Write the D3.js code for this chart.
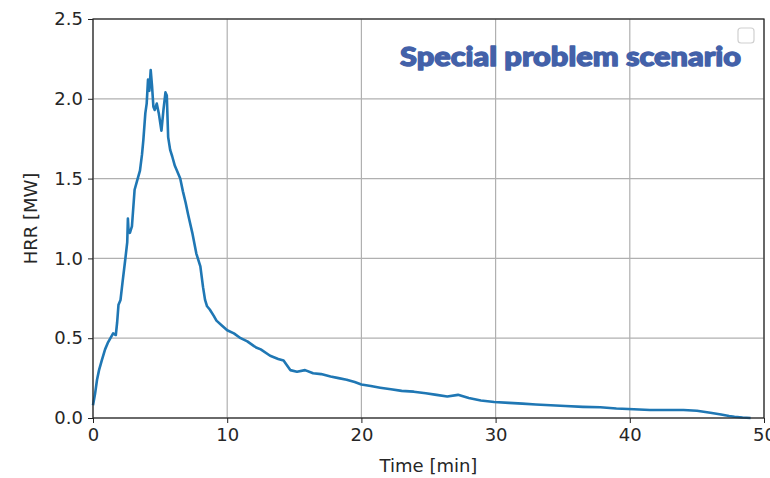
<!DOCTYPE html>
<html>
<head>
<meta charset="utf-8">
<script src="https://cdn.jsdelivr.net/npm/d3@7"></script>
<style>
  body { margin: 0; background: #fff; }
  .axis text { font-family: 'DejaVu Sans', sans-serif; font-size: 18px; fill: #262626; }
  .axis line, .axis path { stroke: #222; }
</style>
</head>
<body>
<svg id="chart"></svg>
<script>
// time [min] and heat release rate [MW]
const timeMin = [0, 0.15, 0.3, 0.45, 0.65, 0.9, 1.1, 1.3, 1.5, 1.7, 1.8, 1.9, 2.05, 2.2, 2.4, 2.55, 2.6, 2.65, 2.75, 2.9,
  3.1, 3.3, 3.5, 3.65, 3.75, 3.9, 4.0, 4.1, 4.2, 4.3, 4.4, 4.5, 4.6, 4.75, 4.9, 5.1, 5.25, 5.4, 5.5, 5.6,
  5.75, 5.9, 6.1, 6.25, 6.5, 6.7, 6.9, 7.1, 7.4, 7.7, 8.0, 8.2, 8.35, 8.5, 8.7, 9.0, 9.2, 9.6, 10.0, 10.5,
  11.0, 11.5, 12.0, 12.2, 12.5, 13.2, 13.8, 14.2, 14.7, 15.2, 15.8, 16.4, 17.0, 17.7, 18.3, 18.9, 19.5, 20.0, 20.7, 21.4,
  22.2, 23.0, 23.9, 24.8, 25.6, 26.4, 27.2, 28.0, 28.9, 29.9, 31.0, 32.0, 33.0, 34.1, 35.2, 36.5, 37.8, 39.0, 40.3, 41.5,
  42.7, 44.0, 45.0, 46.0, 46.8, 47.4, 47.8, 48.4, 49.0]
const hrrMW = [0.08, 0.15, 0.24, 0.3, 0.36, 0.43, 0.47, 0.5, 0.53, 0.52, 0.6, 0.71, 0.74, 0.85, 0.99, 1.1, 1.25, 1.17, 1.16, 1.2,
  1.43, 1.49, 1.55, 1.65, 1.74, 1.91, 1.97, 2.12, 2.05, 2.18, 2.08, 1.95, 1.93, 1.97, 1.91, 1.80, 1.93, 2.04, 2.02, 1.76,
  1.68, 1.64, 1.58, 1.55, 1.50, 1.42, 1.35, 1.27, 1.16, 1.03, 0.95, 0.82, 0.74, 0.70, 0.68, 0.64, 0.61, 0.58, 0.55, 0.53,
  0.50, 0.48, 0.45, 0.44, 0.43, 0.39, 0.37, 0.36, 0.30, 0.29, 0.30, 0.28, 0.275, 0.26, 0.25, 0.24, 0.225, 0.21, 0.20, 0.19,
  0.18, 0.17, 0.165, 0.155, 0.145, 0.135, 0.145, 0.125, 0.11, 0.10, 0.095, 0.09, 0.085, 0.08, 0.075, 0.07, 0.067, 0.06, 0.055, 0.05,
  0.05, 0.05, 0.045, 0.033, 0.022, 0.013, 0.008, 0.003, 0.0]

const xTicks = [0, 10, 20, 30, 40, 50]
const yTicks = [0, 0.5, 1.0, 1.5, 2.0, 2.5]
const title = 'Special problem scenario'

const margin = { top: 19, left: 93, right: 6, bottom: 60 }
const width = 770 - margin.left - margin.right
const height = 478 - margin.top - margin.bottom

const svg = d3.select('#chart')
  .attr('width', 770)
  .attr('height', 478)
  .append('g')
  .attr('transform', 'translate(' + margin.left + ',' + margin.top + ')')

const data = timeMin.map((t, i) => ({ t: t, v: hrrMW[i] }))

/// Scales////////////////////////////////
const xScale = d3.scaleLinear().domain([0, 50]).range([0, width])
const yScale = d3.scaleLinear().domain([0, 2.5]).range([height, 0])

// grid
svg.append('g')
  .selectAll('line.vgrid')
  .data(xTicks)
  .enter()
  .append('line')
  .attr('x1', d => xScale(d)).attr('x2', d => xScale(d))
  .attr('y1', 0).attr('y2', height)
  .attr('stroke', '#b0b0b0').attr('stroke-width', 1.2)

svg.append('g')
  .selectAll('line.hgrid')
  .data(yTicks)
  .enter()
  .append('line')
  .attr('x1', 0).attr('x2', width)
  .attr('y1', d => yScale(d)).attr('y2', d => yScale(d))
  .attr('stroke', '#b0b0b0').attr('stroke-width', 1.2)

/// draw line////////////////////////////////
svg.append('path')
  .datum(data)
  .attr('d', d3.line().x(d => xScale(d.t)).y(d => yScale(d.v)))
  .attr('stroke', '#1f77b4')
  .attr('stroke-width', 2.6)
  .attr('stroke-linejoin', 'round')
  .attr('fill', 'none')

// frame
svg.append('rect')
  .attr('width', width).attr('height', height)
  .attr('fill', 'none').attr('stroke', '#222').attr('stroke-width', 1.2)

// axes
svg.append('g')
  .attr('class', 'axis')
  .attr('transform', 'translate(0,' + height + ')')
  .call(d3.axisBottom(xScale).tickValues(xTicks).tickSize(5).tickPadding(5).tickFormat(d3.format('d')))
  .call(g => g.select('.domain').remove())

svg.append('g')
  .attr('class', 'axis')
  .call(d3.axisLeft(yScale).tickValues(yTicks).tickSize(5).tickPadding(5).tickFormat(d3.format('.1f')))
  .call(g => g.select('.domain').remove())

/// /text labels////////////////////////////////
svg.append('text')
  .text('Time [min]')
  .attr('x', width / 2)
  .attr('y', height + 54)
  .attr('text-anchor', 'middle')
  .attr('font-family', 'DejaVu Sans, sans-serif')
  .attr('font-size', 18)
  .attr('fill', '#262626')

svg.append('text')
  .text('HRR [MW]')
  .attr('transform', 'translate(' + (37 - margin.left) + ',' + (height / 2) + ') rotate(-90)')
  .attr('text-anchor', 'middle')
  .attr('font-family', 'DejaVu Sans, sans-serif')
  .attr('font-size', 18)
  .attr('fill', '#262626')

svg.append('text')
  .text(title)
  .attr('x', 400 - margin.left)
  .attr('y', 66 - margin.top)
  .attr('font-family', 'Lato, Open Sans, sans-serif')
  .attr('font-weight', 900)
  .attr('font-size', 26)
  .attr('textLength', 341)
  .attr('lengthAdjust', 'spacingAndGlyphs')
  .attr('fill', '#4361a9')
  .attr('stroke', '#4361a9')
  .attr('stroke-width', 1.3)
  .attr('stroke-linejoin', 'round')

// empty legend frame
svg.append('rect')
  .attr('x', 738 - margin.left)
  .attr('y', 28 - margin.top)
  .attr('width', 16).attr('height', 15)
  .attr('rx', 3)
  .attr('fill', '#fff')
  .attr('stroke', '#d0d0d0')
  .attr('stroke-width', 1.2)
</script>
</body>
</html>
